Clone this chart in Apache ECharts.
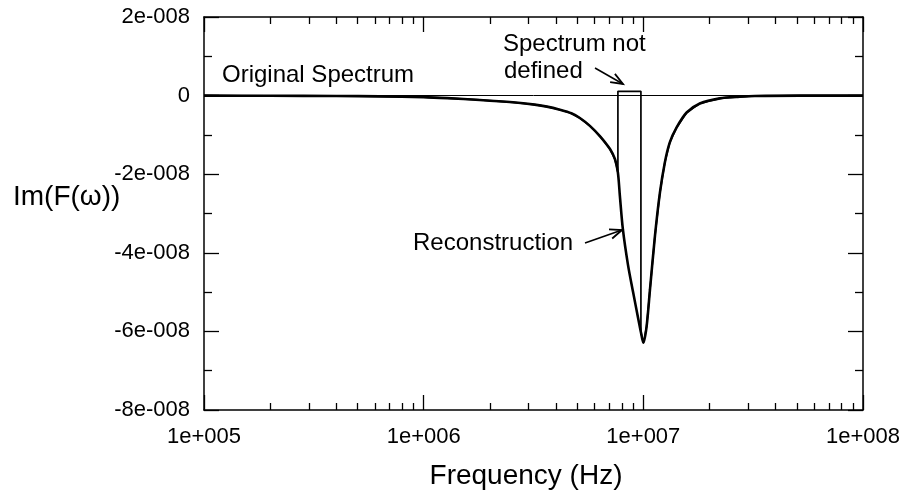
<!DOCTYPE html>
<html><head><meta charset="utf-8">
<script src="https://cdn.jsdelivr.net/npm/echarts@6/dist/echarts.min.js"></script>
<style>html,body{margin:0;padding:0;background:#fff}#c{width:905px;height:493px}</style>
</head><body><div id="c"></div>
<script>
// ---- data ----
const xTickValues = [1e5, 1e6, 1e7, 1e8];
const xMinorTickValues = [
  2e5,3e5,4e5,5e5,6e5,7e5,8e5,9e5,
  2e6,3e6,4e6,5e6,6e6,7e6,8e6,9e6,
  2e7,3e7,4e7,5e7,6e7,7e7,8e7,9e7
];
const yMin = -8e-8, yMax = 2e-8, yStep = 2e-8;

// Reconstruction curve (Hz, Im(F))
const reconFreq = [
  1e5, 2e5, 4e5, 6.3e5, 1.0e6, 1.28e6, 1.8e6, 2.55e6, 3.2e6, 3.64e6,
  4.17e6, 4.7e6, 5.14e6, 5.71e6, 6.34e6, 7.05e6, 7.43e6, 7.66e6, 7.82e6, 8.07e6,
  8.51e6, 8.98e6, 9.46e6, 9.75e6, 1.0e7, 1.035e7, 1.072e7, 1.129e7, 1.19e7, 1.253e7,
  1.32e7, 1.418e7, 1.575e7, 1.808e7, 2.23e7, 2.75e7, 3.22e7, 5.16e7, 1e8
];
const reconIm = [
  0, -0.005e-8, -0.01e-8, -0.02e-8, -0.04e-8, -0.065e-8, -0.11e-8, -0.17e-8, -0.23e-8, -0.28e-8,
  -0.36e-8, -0.45e-8, -0.57e-8, -0.77e-8, -1.03e-8, -1.36e-8, -1.62e-8, -1.96e-8, -2.55e-8, -3.4e-8,
  -4.3e-8, -5.0e-8, -5.65e-8, -6.02e-8, -6.29e-8, -5.87e-8, -4.94e-8, -3.58e-8, -2.47e-8, -1.70e-8,
  -1.19e-8, -0.81e-8, -0.43e-8, -0.20e-8, -0.07e-8, -0.03e-8, -0.01e-8, 0, 0
];
// Original spectrum: undefined band replaced by a flat step
const gapFreq = [7.66e6, 7.66e6, 9.75e6, 9.75e6];
const gapIm = [-1.96e-8, 0.11e-8, 0.11e-8, -6.02e-8];

// ---- build ----
const FONT = '"Liberation Sans", Arial, Helvetica, sans-serif';
const reconData = reconFreq.map((f, i) => [f, reconIm[i]]);
const origData = [];
reconFreq.forEach((f, i) => { if (f < gapFreq[0]) origData.push([f, reconIm[i]]); });
gapFreq.forEach((f, i) => origData.push([f, gapIm[i]]));
reconFreq.forEach((f, i) => { if (f > gapFreq[3]) origData.push([f, reconIm[i]]); });

const fmtX = v => {
  const e = Math.round(Math.log10(v));
  return '1e+' + String(e).padStart(3, '0');
};
const fmtY = v => {
  const m = Math.round(v / 1e-8);
  if (m === 0) return '0';
  return m + 'e-008';
};
const axisLine = { show: true, onZero: false, lineStyle: { color: '#000', width: 1.5 } };
const tickStyle = { color: '#000', width: 1.3 };

function xAxisDef(pos, minor, labels) {
  return {
    type: 'log', logBase: 10, min: 1e5, max: 1e8, position: pos, gridIndex: 0,
    axisLine: minor ? { show: false, onZero: false } : axisLine,
    axisTick: minor
      ? { show: true, inside: true, length: 7, lineStyle: tickStyle, customValues: xMinorTickValues }
      : { show: true, inside: true, length: 15, lineStyle: tickStyle, customValues: xTickValues },
    axisLabel: labels
      ? { show: true, customValues: xTickValues, formatter: fmtX, fontFamily: FONT, fontSize: 22, color: '#000', margin: 16 }
      : { show: false },
    splitLine: { show: false }
  };
}
function yAxisDef(pos, labels) {
  return {
    type: 'value', min: yMin, max: yMax, interval: yStep, position: pos,
    axisLine: axisLine,
    axisTick: { show: true, inside: true, length: 15, lineStyle: tickStyle },
    minorTick: { show: true, splitNumber: 2, length: 8, lineStyle: tickStyle },
    axisLabel: labels
      ? { show: true, formatter: fmtY, fontFamily: FONT, fontSize: 22, color: '#000', margin: 14 }
      : { show: false },
    splitLine: { show: false }, minorSplitLine: { show: false }
  };
}

function arrow(x1, y1, x2, y2) {
  const a = Math.atan2(y2 - y1, x2 - x1), L = 13, h = 0.38;
  const p1 = [x2 - L * Math.cos(a - h), y2 - L * Math.sin(a - h)];
  const p2 = [x2 - L * Math.cos(a + h), y2 - L * Math.sin(a + h)];
  return [
    { type: 'line', shape: { x1, y1, x2, y2 }, style: { stroke: '#000', lineWidth: 1.6 } },
    { type: 'polyline', shape: { points: [p1, [x2, y2], p2] }, style: { stroke: '#000', lineWidth: 1.8, fill: null } }
  ];
}
function txt(text, x, y, size, align) {
  return { type: 'text', x, y, style: { text, fontFamily: FONT, fontSize: size, fill: '#000', align: align || 'left', verticalAlign: 'middle' } };
}

const chart = echarts.init(document.getElementById('c'), null, { renderer: 'canvas' });
chart.setOption({
  animation: false,
  backgroundColor: '#fff',
  grid: { left: 204, right: 42, top: 17, bottom: 83, containLabel: false, outerBoundsMode: 'none' },
  xAxis: [xAxisDef('bottom', false, true), xAxisDef('bottom', true, false), xAxisDef('top', false, false), xAxisDef('top', true, false)],
  yAxis: [yAxisDef('left', true), yAxisDef('right', false)],
  series: [
    {
      name: 'Original Spectrum', type: 'line', xAxisIndex: 0, yAxisIndex: 0, data: origData,
      showSymbol: false, symbol: 'none', lineStyle: { color: '#000', width: 1.7 }, z: 2,
      markLine: { silent: true, symbol: 'none', label: { show: false }, lineStyle: { color: '#000', width: 1, type: 'solid' }, data: [{ yAxis: 0 }] }
    },
    {
      name: 'Reconstruction', type: 'line', xAxisIndex: 0, yAxisIndex: 0, data: reconData,
      smooth: 0.3,
      showSymbol: false, symbol: 'none', lineStyle: { color: '#000', width: 2.6 }, z: 3
    }
  ],
  graphic: [
    txt('Original Spectrum', 222, 75, 24),
    txt('Spectrum not', 503, 44.5, 24),
    txt('defined', 504, 71.5, 24),
    txt('Reconstruction', 413, 243.5, 24),
    txt('Frequency (Hz)', 526, 476, 28, 'center'),
    txt('Im(F(\u03C9))', 13, 197, 28),
    ...arrow(595, 68, 623, 84),
    ...arrow(585, 243, 622, 230)
  ]
});
</script></body></html>
